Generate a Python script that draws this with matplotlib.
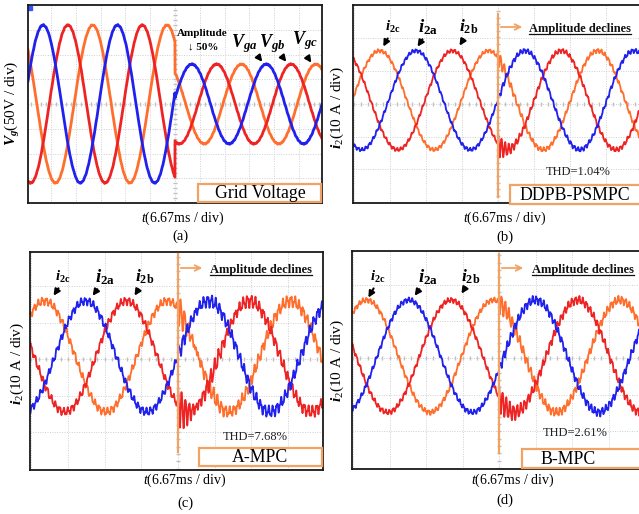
import numpy as np
import matplotlib
matplotlib.use("Agg")
import matplotlib.pyplot as plt
from matplotlib.lines import Line2D
from matplotlib.patches import Rectangle

# --- fontes ---
plt.rcParams['font.family'] = ['Liberation Serif', 'DejaVu Serif']
plt.rcParams['mathtext.fontset'] = 'custom'
plt.rcParams['mathtext.rm'] = 'Liberation Serif'
plt.rcParams['mathtext.it'] = 'Liberation Serif:italic'
plt.rcParams['mathtext.bf'] = 'Liberation Serif:bold'
plt.rcParams['mathtext.bfit'] = 'Liberation Serif:italic:bold'

# --- dados (unidades: divisoes do osciloscopio) ---
paineis = ['a', 'b', 'c', 'd']
periodo = [3.00, 3.03, 3.35, 3.47]          # div por ciclo (20 ms)
amp_antes = [3.19, 1.50, 1.52, 1.53]        # amplitude antes do degrau
amp_depois = [1.61, 1.50, 1.52, 1.53]       # amplitude depois do degrau
offset = [0.00, 0.10, 0.07, 0.05]
pico_fase_a = [-5.32, -2.28, -2.52, -2.47]  # posicao do pico da fase a
ripple_antes = [0.015, 0.04, 0.08, 0.05]
ripple_depois = [0.015, 0.05, 0.12, 0.08]
freq_ripple = [9.0, 10.0, 9.0, 10.0]        # ciclos por div
transit_a = [0.0, 0.05, 0.08, 0.05]
transit_b = [0.0, 0.35, 0.45, 0.30]
transit_c = [0.0, 0.20, 0.30, 0.20]
transit_tau = [1.0, 0.25, 0.60, 0.40]

rotulos_y = [r'$\mathbfit{V}_{\mathbfit{g}}$(50V / div)',
             r'$\mathbfit{i}_{\mathrm{2}}$(10 A / div)',
             r'$\mathbfit{i}_{\mathrm{2}}$(10 A / div)',
             r'$\mathbfit{i}_{\mathrm{2}}$(10 A / div)']
caixas = ['Grid Voltage', 'DDPB-PSMPC', 'A-MPC', 'B-MPC']
thd = [None, 'THD=1.04%', 'THD=7.68%', 'THD=2.61%']
letras = ['(a)', '(b)', '(c)', '(d)']

AZUL = '#2121ee'
VERMELHO = '#ee2424'
LARANJA = '#ff6e2c'
LARANJA_CLARO = '#f2a263'

W, H = 639, 514
fig = plt.figure(figsize=(W / 100, H / 100), dpi=100)

# layout em pixels: esquerda, topo, direita, base, centro x, centro y, div x, div y
layout = [
    (28, 5, 322, 203, 175, 104, 24.8, 24.75),
    (353, 5, 643, 203, 498, 103.5, 36.0, 33.0),
    (30, 252, 323, 470, 178, 359, 36.7, 36.5),
    (352, 251, 643, 469, 499, 358, 36.5, 36.7),
]


def fx(x):
    return x / W


def fy(y):
    return 1 - y / H


def texto(x, y, s, **kw):
    kw.setdefault('ha', 'center')
    kw.setdefault('va', 'center')
    return fig.text(fx(x), fy(y), s, **kw)


def seta(x1, y1, x2, y2, cor='k', lw=1.5, estilo='-|>', ms=9):
    fig.add_artist(matplotlib.patches.FancyArrowPatch(
        (fx(x1), fy(y1)), (fx(x2), fy(y2)), transform=fig.transFigure,
        arrowstyle=estilo, color=cor, lw=lw, mutation_scale=ms, zorder=5))


def linha_fig(xs, ys, cor, lw):
    fig.add_artist(Line2D([fx(v) for v in xs], [fy(v) for v in ys],
                          transform=fig.transFigure, color=cor, lw=lw, zorder=4))


eixos = []
for i, p in enumerate(paineis):
    l, t, r, b, cx, cy, dx, dy = layout[i]
    ax = fig.add_axes([fx(l), fy(b), (r - l) / W, (b - t) / H])
    xmin, xmax = (l - cx) / dx, (r - cx) / dx
    ymin, ymax = -(b - cy) / dy, (cy - t) / dy
    ax.set_xlim(xmin, xmax)
    ax.set_ylim(ymin, ymax)
    ax.set_xticks([])
    ax.set_yticks([])
    for s in ax.spines.values():
        s.set_color('#1a1a1a')
        s.set_linewidth(1.3)

    # grade do osciloscopio
    for gx in range(int(np.ceil(xmin)), int(np.floor(xmax)) + 1):
        ax.axvline(gx, color='#cfcfcf', lw=0.7, ls=(0, (1, 1.5)), zorder=0)
    for gy in range(int(np.ceil(ymin)), int(np.floor(ymax)) + 1):
        ax.axhline(gy, color='#cfcfcf', lw=0.7, ls=(0, (1, 1.5)), zorder=0)
    tx = np.arange(np.ceil(xmin * 5) / 5, xmax, 0.2)
    ty = np.arange(np.ceil(ymin * 5) / 5, ymax, 0.2)
    ax.plot(tx, np.zeros_like(tx), '|', color='#c0c0c0', ms=3, zorder=0)
    ax.plot(np.zeros_like(ty), ty, '_', color='#c0c0c0', ms=3, zorder=0)

    # formas de onda
    x = np.linspace(xmin, xmax, 4000)
    depois = x >= 0
    A = np.where(depois, amp_depois[i], amp_antes[i])
    rip = np.where(depois, ripple_depois[i], ripple_antes[i])
    T = periodo[i]
    fr = freq_ripple[i]
    trans = [transit_a[i], transit_b[i], transit_c[i]]
    lw = 2.0 if p == 'a' else 1.3
    cores = [AZUL, VERMELHO, LARANJA]
    ordem = [2, 1, 0]
    for k in ordem:
        pk = pico_fase_a[i] + k * T / 3
        y = offset[i] + A * np.cos(2 * np.pi * (x - pk) / T)
        fase = k * 1.7
        y = y + rip * (np.sin(2 * np.pi * fr * x + fase)
                       + 0.5 * np.sin(2 * np.pi * 2.3 * fr * x + 2 * fase))
        env = np.where(depois, np.exp(-np.clip(x, 0, None) / transit_tau[i]), 0)
        y = y + trans[k] * env * np.sin(2 * np.pi * 10.0 * x + fase)
        ax.plot(x, y, color=cores[k], lw=lw, zorder=2)
    if p == 'a':
        ax.plot([0.006], [0.985], 's', color='#3355ff', ms=2.5,
                transform=ax.transAxes)
    eixos.append(ax)

# caixas com nome do metodo
pos_caixa = [(198, 184, 321, 202), (510, 185, 645, 204),
             (199, 448, 322, 466), (522, 449, 645, 468)]
pos_txt_caixa = [(260, 193.5), (575, 195), (260, 457.5), (568, 459)]
for i in range(4):
    x0, y0, x1, y1 = pos_caixa[i]
    fig.add_artist(Rectangle((fx(x0), fy(y1)), (x1 - x0) / W, (y1 - y0) / H,
                             transform=fig.transFigure, facecolor='white',
                             edgecolor=LARANJA_CLARO, lw=1.6, zorder=3))
    texto(*pos_txt_caixa[i], caixas[i], fontsize=12.8, zorder=6)

# THD
pos_thd = [None, (578, 172), (255, 437), (575, 433)]
for i in range(1, 4):
    texto(*pos_thd[i], thd[i], fontsize=9, color='#222222')

# rotulos dos eixos
pos_x = [(183, 218), (505, 218), (185, 480), (513, 480)]
pos_letra = [(180, 236), (505, 237), (185, 503), (505, 500)]
pos_y = [(13, 103), (337, 107), (17, 363), (337, 360)]
for i in range(4):
    texto(*pos_x[i], r'$\mathit{t}$(6.67ms / div)', fontsize=10)
    texto(*pos_letra[i], letras[i], fontsize=10.5)
    texto(*pos_y[i], rotulos_y[i], fontsize=11, rotation=90)

# painel (a): anotacoes
texto(202, 33, 'Amplitude', fontsize=8, fontweight='bold')
texto(203, 47, '\u2193 50%', fontsize=8, fontweight='bold')
for lab, (lx, ly), (x1, y1, x2, y2) in [
        ('ga', (244, 44), (257, 55, 264, 64)),
        ('gb', (272, 44), (281, 55, 288, 64)),
        ('gc', (305, 41), (306, 55, 313, 65))]:
    texto(lx, ly, r'$\mathbfit{V}_{\mathbfit{' + lab + '}}$', fontsize=13)
    seta(x1, y1, x2, y2)

# paineis (b)-(d): rotulos das correntes
rot_i = [
    [('2c', 10.5, (393, 27), (389, 36, 382, 49)),
     ('2a', 13.5, (428, 27), (424, 37, 416, 49)),
     ('2b', 12.5, (469, 27), (465, 37, 458, 48))],
    [('2c', 10.5, (63, 277), (60, 286, 52, 298)),
     ('2a', 13.5, (105, 277), (99, 287, 91, 298)),
     ('2b', 12.5, (145, 277), (140, 287, 133, 298))],
    [('2c', 10.5, (378, 277), (375, 286, 367, 300)),
     ('2a', 13.5, (428, 277), (421, 287, 413, 298)),
     ('2b', 12.5, (471, 277), (467, 285, 460, 296))],
]
for grupo in rot_i:
    for sub, fs, (lx, ly), (x1, y1, x2, y2) in grupo:
        texto(lx, ly, r'$\mathbfit{i}_{\mathbf{' + sub + '}}$', fontsize=fs)
        seta(x1, y1, x2, y2)

# linha do degrau e "Amplitude declines"
degraus = [(498, 14, 197, 27, 529), (178, 254, 452, 268, 210),
           (499, 254, 453, 268, 532)]
txts_ud = []
for (xl, ya, yb, yar, xt) in degraus:
    linha_fig([xl, xl], [ya, yb], LARANJA_CLARO, 1.6)
    seta(xl, yar, xl + 27, yar, cor=LARANJA_CLARO, lw=1.3, estilo='->', ms=10)
    tt = texto(xt, yar + 2, 'Amplitude declines', fontsize=9,
               fontweight='bold', ha='left', color='#111111')
    txts_ud.append(tt)

fig.canvas.draw()
for tt in txts_ud:
    bb = tt.get_window_extent()
    yb = bb.y0 + 1.5
    fig.add_artist(Line2D([bb.x0 / W, bb.x1 / W], [yb / H, yb / H],
                          transform=fig.transFigure, color='#111111', lw=0.9))

fig.savefig('out.png', dpi=100)
